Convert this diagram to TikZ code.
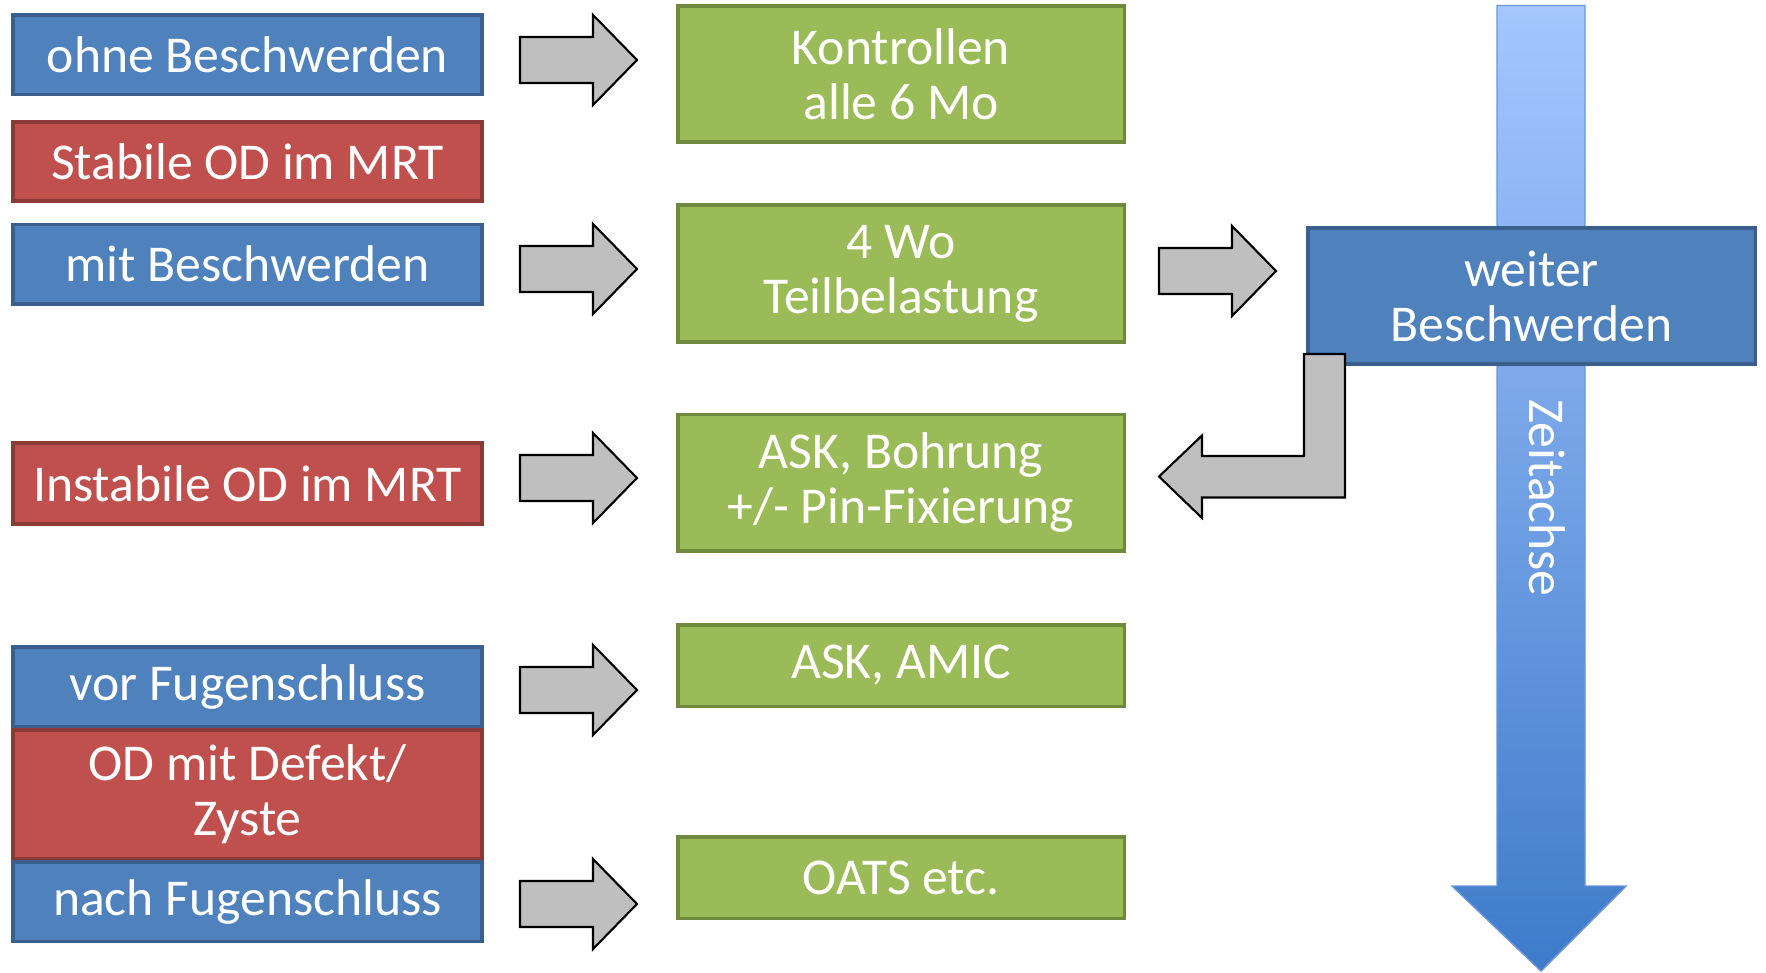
\documentclass[tikz,border=0pt]{standalone}
\usepackage{fontspec}
\setmainfont{Carlito}
\usepackage{tikz}
\usetikzlibrary{positioning}
\usepackage{xcolor}

\definecolor{boxblue}{HTML}{4F81BD}
\definecolor{boxblueline}{HTML}{3A5F8C}
\definecolor{boxred}{HTML}{C0504D}
\definecolor{boxredline}{HTML}{8C3A38}
\definecolor{boxgreen}{HTML}{9BBB59}
\definecolor{boxgreenline}{HTML}{71893F}
\definecolor{arrgray}{HTML}{BFBFBF}
\definecolor{timetop}{HTML}{A5C6FF}
\definecolor{timebottom}{HTML}{3E7BCA}
\definecolor{timeline}{HTML}{6A95D8}

\tikzset{
  box/.style={rectangle, line width=1pt, text=white, align=center, inner sep=0pt,
    font=\fontsize{14.7}{15.6}\selectfont},
  bluebox/.style={box, fill=boxblue, draw=boxblueline, minimum width=46.95mm, minimum height=7.95mm},
  redbox/.style={box, fill=boxred, draw=boxredline, minimum width=46.95mm, minimum height=7.95mm},
  greenbox/.style={box, fill=boxgreen, draw=boxgreenline, minimum width=44.65mm, minimum height=13.65mm},
  arrowbox/.style={fill=arrgray, draw=black, line width=0.6pt, line join=miter},
  grayarr/.pic={
    \draw[arrowbox] (0,-23) -- (73,-23) -- (73,-45) -- (117,0) -- (73,45) -- (73,23) -- (0,23) -- cycle;
  }
}

\begin{document}
\begin{tikzpicture}[x=0.1mm, y=-0.1mm]
    \useasboundingbox (0,0) rectangle (1766,972);

    % time axis
    \draw [timeline, line width=0.4pt, top color=timetop, bottom color=timebottom]
      (1497,5.5) -- (1585,5.5) -- (1585,886) -- (1626,886) -- (1541,971)
      -- (1452,886) -- (1497,886) -- cycle;
    \node [text=white, rotate=-90, font=\fontsize{14.7}{15.6}\selectfont] (zeit) at (1547,498) {Zeitachse};

    % left column
    \node [bluebox] (ohne) at (247.5,54.8) {ohne Beschwerden};
    \node [redbox] (stabil) at (247.5,161.5) {Stabile OD im MRT};
    \node [bluebox] (mit) at (247.5,264.1) {mit Beschwerden};
    \node [redbox, minimum height=8.15mm] (instabil) at (247.5,483.5) {Instabile OD im MRT};
    \node [bluebox] (vor) at (247.5,686.5) {vor Fugenschluss};
    \node [redbox, minimum height=12.85mm, below=0pt of vor] (defekt) {OD mit Defekt/\\Zyste};
    \node [bluebox, below=0pt of defekt] (nach) {nach Fugenschluss};

    % therapy column
    \node [greenbox] (kontrolle) at (901,74) {Kontrollen\\alle 6 Mo};
    \node [greenbox] (teil) at (901,273.5) {4 Wo\\Teilbelastung};
    \node [greenbox] (ask) at (901,482.8) {ASK, Bohrung\\+/- Pin-Fixierung};
    \node [greenbox, minimum height=8.15mm] (amic) at (901,665.5) {ASK, AMIC};
    \node [greenbox, minimum height=8.15mm] (oats) at (901,877.5) {OATS etc.};

    \node [bluebox, minimum width=44.75mm, minimum height=13.65mm] (weiter) at (1531.5,296) {weiter\\Beschwerden};

    % gray arrows
    \coordinate (A1) at (520,60);
    \coordinate (A2) at (520,269);
    \coordinate (A3) at (520,478);
    \coordinate (A4) at (520,690);
    \coordinate (A5) at (520,904);
    \coordinate (A6) at (1159,271);
    \foreach \a in {A1,A2,A3,A4,A5,A6}
      \pic at (\a) {grayarr};

    % back to ASK
    \draw [arrowbox] (1304,354) -- (1345,354) -- (1345,497.5) -- (1202,497.5)
      -- (1202,518) -- (1159,476.5) -- (1202,435.5) -- (1202,456) -- (1304,456) -- cycle;
\end{tikzpicture}
\end{document}
